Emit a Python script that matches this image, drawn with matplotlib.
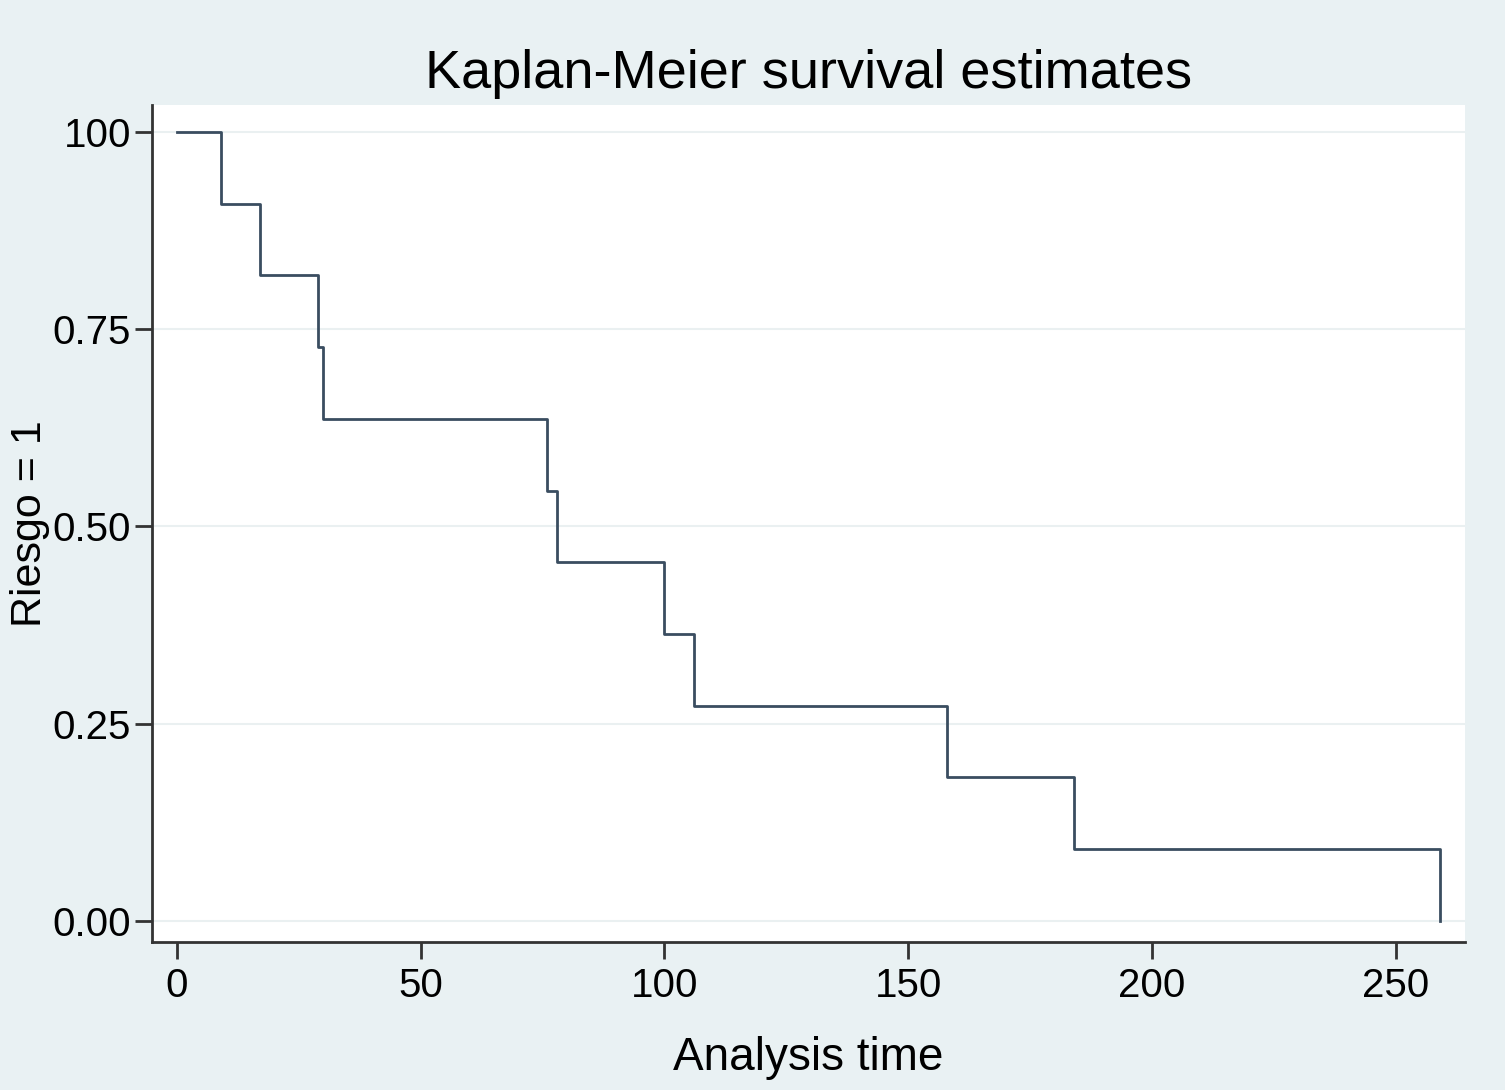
import numpy as np
from matplotlib import pyplot as plt

# Kaplan-Meier step data (11 subjects, no censoring)
event_times = [0, 9, 17, 29, 30, 76, 78, 100, 106, 158, 184, 259]
survival = [1.0, 0.909, 0.818, 0.727, 0.636, 0.545, 0.455, 0.364, 0.273, 0.182, 0.091, 0.0]

x_ticks = [0, 50, 100, 150, 200, 250]
y_ticks = [0.0, 0.25, 0.50, 0.75, 1.0]
y_tick_labels = ["0.00", "0.25", "0.50", "0.75", "100"]

plt.rcParams['font.family'] = ['Liberation Sans', 'DejaVu Sans']

bg = '#e9f1f3'
line_color = '#3a4d60'

fig = plt.figure(figsize=(15.05, 10.9), dpi=100)
fig.patch.set_facecolor(bg)
ax = fig.add_axes([0.101, 0.1358, 0.8724, 0.7679])
ax.set_facecolor('white')

# step curve, drop happens at each event time
ax.step(event_times, survival, where='post', color=line_color, linewidth=2.0)

ax.set_xlim(-5.1, 264.2)
ax.set_ylim(-0.0266, 1.034)
ax.set_xticks(x_ticks)
ax.set_yticks(y_ticks)
ax.set_yticklabels(y_tick_labels)

ax.grid(axis='y', color='#eaf0f1', linewidth=1.5)
ax.set_axisbelow(True)

for side in ['top', 'right']:
    ax.spines[side].set_visible(False)
for side in ['left', 'bottom']:
    ax.spines[side].set_color('#333333')
    ax.spines[side].set_linewidth(2)

ax.tick_params(axis='both', labelsize=29, length=12, width=2, color='#333333', pad=3)
ax.tick_params(axis='x', pad=6)

ax.set_title('Kaplan-Meier survival estimates', fontsize=39, pad=12)
ax.set_xlabel('Analysis time', fontsize=33, labelpad=22)
ax.set_ylabel('Riesgo = 1', fontsize=31, labelpad=2)

fig.savefig('out.png', dpi=100, facecolor=bg)
